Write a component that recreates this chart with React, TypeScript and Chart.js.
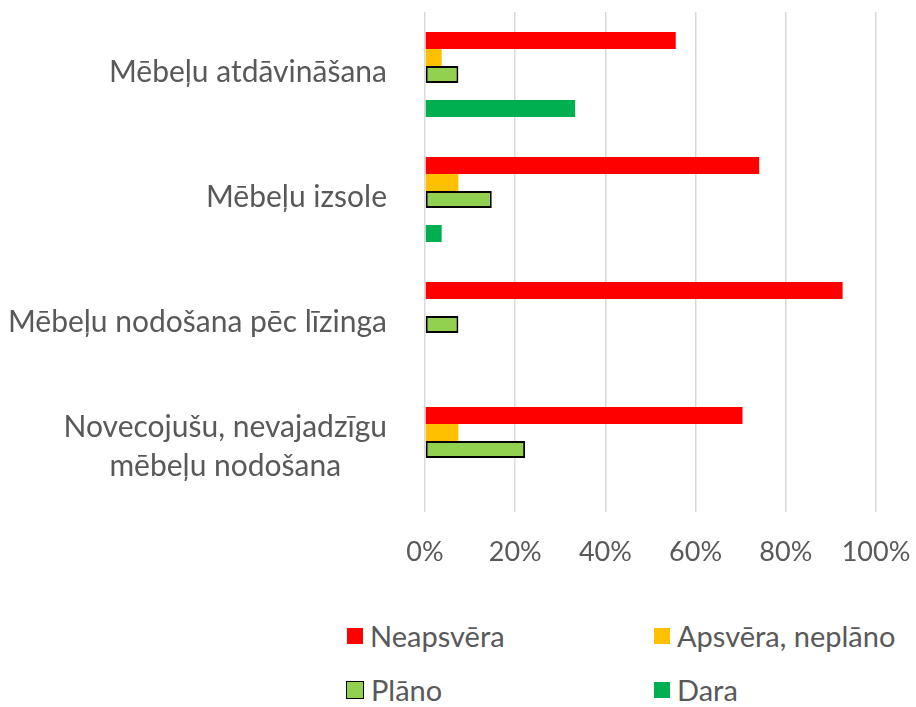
import React, { useEffect, useRef } from 'react';
import { Chart, registerables } from 'chart.js';

Chart.register(...registerables);

const categories: string[][] = [
  ['Mēbeļu atdāvināšana'],
  ['Mēbeļu izsole'],
  ['Mēbeļu nodošana pēc līzinga'],
  ['Novecojušu, nevajadzīgu', 'mēbeļu nodošana'],
];
const neapsvera = [55.6, 74.1, 92.6, 70.4];
const apsvera = [3.7, 7.4, null, 7.4];
const plano = [7.4, 14.8, 7.4, 22.2];
const unnamed = [null, null, null, null];
const dara = [33.3, 3.7, null, null];
const xTicks = [0, 20, 40, 60, 80, 100];

const seriesNames = ['Neapsvēra', 'Apsvēra, neplāno', 'Plāno', '', 'Dara'];
const seriesColors = ['#FF0000', '#FFC000', '#92D050', '#A5A5A5', '#00B050'];

const TEXT = '#595959';
const FONT = 'Lato, "Open Sans", sans-serif';

const yLabelPlugin = {
  id: 'yLabels',
  afterDraw(chart: any) {
    const ys = chart.scales.y;
    const ctx = chart.ctx;
    ctx.save();
    ctx.font = `30px ${FONT}`;
    ctx.fillStyle = TEXT;
    ctx.textAlign = 'center';
    ctx.textBaseline = 'alphabetic';
    const rightEdge = 387;
    const lineH = 38.5;
    categories.forEach((lines, i) => {
      const cy = ys.getPixelForValue(i);
      const maxW = Math.max(...lines.map((l) => ctx.measureText(l).width));
      const cx = rightEdge - maxW / 2;
      lines.forEach((l, j) => {
        const base = cy + 7 + (j - (lines.length - 1) / 2) * lineH;
        ctx.fillText(l, cx, base);
      });
    });
    ctx.restore();
  },
};

const legendItems = [
  { name: seriesNames[0], color: seriesColors[0], left: 347, row: 636, border: false },
  { name: seriesNames[1], color: seriesColors[1], left: 654, row: 636, border: false },
  { name: seriesNames[2], color: seriesColors[2], left: 346, row: 690, border: true },
  { name: seriesNames[4], color: seriesColors[4], left: 654, row: 690, border: false },
];

export default function App() {
  const ref = useRef<HTMLCanvasElement>(null);

  useEffect(() => {
    if (!ref.current) return;
    const values = [neapsvera, apsvera, plano, unnamed, dara];
    const chart = new Chart(ref.current, {
      type: 'bar',
      data: {
        labels: categories.map((c) => c.join(' ')),
        datasets: values.map((d, i) => ({
          label: seriesNames[i],
          data: d as any,
          backgroundColor: seriesColors[i],
          borderColor: '#000000',
          borderWidth: i === 2 ? 2 : 0,
          borderSkipped: false,
        })),
      },
      options: {
        indexAxis: 'y',
        responsive: false,
        animation: false,
        layout: { padding: { top: 12, right: 40, left: 0, bottom: 0 } },
        plugins: { legend: { display: false }, tooltip: { enabled: false } },
        datasets: { bar: { categoryPercentage: 0.68, barPercentage: 1 } },
        scales: {
          x: {
            min: 0,
            max: 100,
            afterBuildTicks: (s: any) => {
              s.ticks = xTicks.map((v) => ({ value: v }));
            },
            ticks: {
              callback: (v: any) => `${v}%`,
              font: { family: FONT, size: 27 },
              color: TEXT,
              padding: 24,
              maxRotation: 0,
            },
            grid: { color: '#D9D9D9', lineWidth: 1.5, drawTicks: false },
            border: { display: false },
            afterFit: (s: any) => {
              s.height = 68;
              s.paddingLeft = 0;
              s.paddingRight = 0;
            },
          },
          y: {
            ticks: { display: false },
            grid: { display: false },
            border: { display: false },
            afterFit: (s: any) => {
              s.width = 425;
            },
          },
        },
      } as any,
      plugins: [yLabelPlugin],
    });
    return () => chart.destroy();
  }, []);

  return (
    <div style={{ position: 'absolute', left: 0, top: 0, width: 916, height: 707, background: '#fff' }}>
      <canvas ref={ref} width={916} height={580} style={{ display: 'block', width: 916, height: 580 }} />
      {legendItems.map((it) => (
        <div
          key={it.name}
          style={{
            position: 'absolute',
            left: it.left,
            top: it.row - 16,
            height: 32,
            display: 'flex',
            alignItems: 'center',
            fontFamily: FONT,
            fontSize: 29,
            color: TEXT,
            whiteSpace: 'nowrap',
            lineHeight: '32px',
          }}
        >
          <span
            style={{
              display: 'inline-block',
              width: 16,
              height: 16,
              boxSizing: it.border ? 'content-box' : 'border-box',
              background: it.color,
              border: it.border ? '1.5px solid #000' : 'none',
              marginRight: 7,
            }}
          />
          <span>{it.name}</span>
        </div>
      ))}
    </div>
  );
}
